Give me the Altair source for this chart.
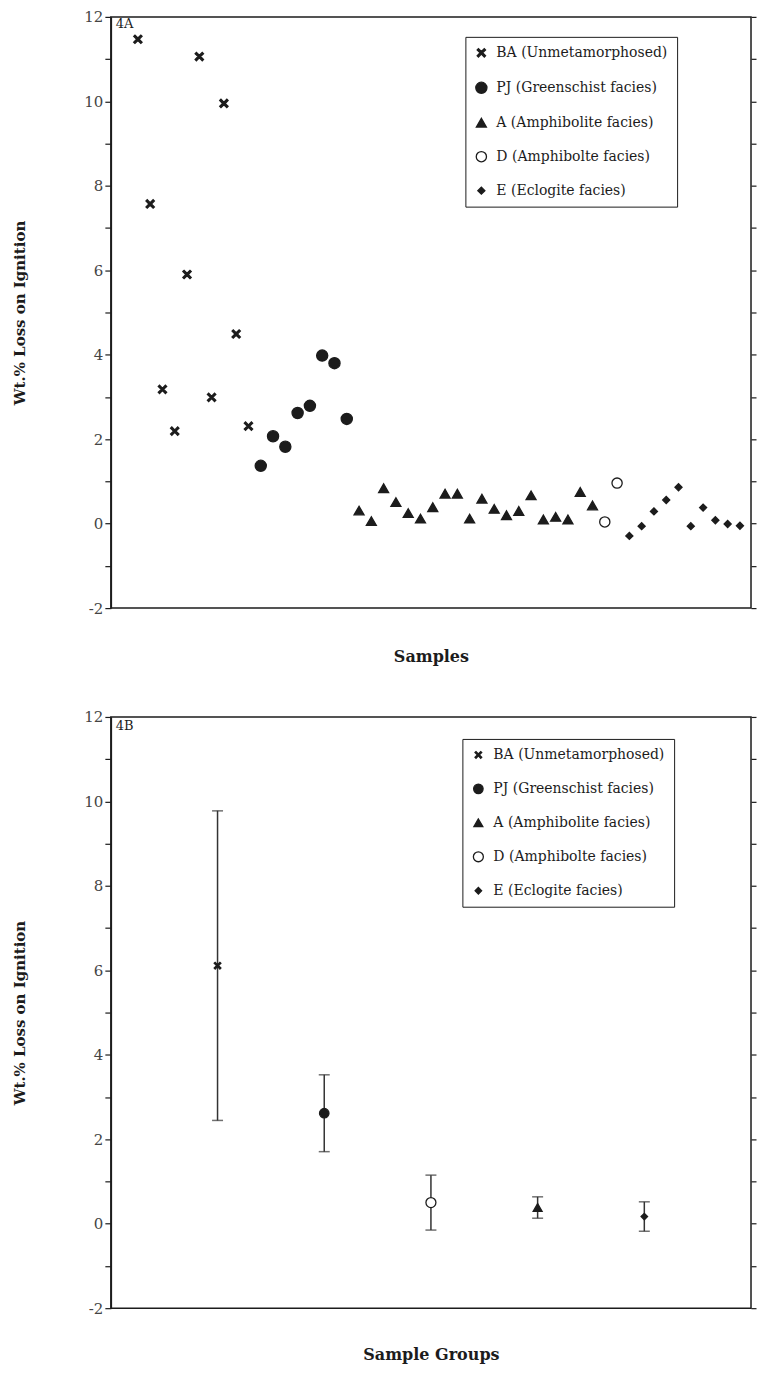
import altair as alt
import pandas as pd

# ---- data (Wt.% loss on ignition) ----
ba = [11.47, 7.57, 3.18, 2.19, 5.90, 11.06, 2.99, 9.95, 4.49, 2.31]
pj = [1.37, 2.07, 1.82, 2.62, 2.79, 3.98, 3.80, 2.48]
am = [0.31, 0.06, 0.84, 0.51, 0.25, 0.12, 0.39, 0.71, 0.71, 0.12,
      0.59, 0.35, 0.20, 0.30, 0.67, 0.10, 0.16, 0.10, 0.75, 0.43]
dm = [0.04, 0.96]
ec = [-0.29, -0.06, 0.29, 0.56, 0.86, -0.06, 0.38, 0.08, -0.01, -0.05]

labels = ["BA (Unmetamorphosed)", "PJ (Greenschist facies)",
          "A (Amphibolite facies)", "D (Amphibolte facies)", "E (Eclogite facies)"]
group_order_b = [labels[0], labels[1], labels[3], labels[2], labels[4]]

values = ba + pj + am + dm + ec
groups = ([labels[0]] * len(ba) + [labels[1]] * len(pj) + [labels[2]] * len(am)
          + [labels[3]] * len(dm) + [labels[4]] * len(ec))
df = pd.DataFrame({"sample": list(range(1, len(values) + 1)), "loi": values, "group": groups})

# ---- styles ----
SERIF = "DejaVu Serif"
INK = "#1c1c1c"
x_path = "M-1,-0.7L-0.7,-1L0,-0.3L0.7,-1L1,-0.7L0.3,0L1,0.7L0.7,1L0,0.3L-0.7,1L-1,0.7L-0.3,0Z"
shapes = [x_path, "circle", "triangle-up", "circle", "diamond"]
fills = [INK, INK, INK, "white", INK]
sizes_top = [70, 125, 100, 105, 50]
sizes_bot = [45, 90, 80, 100, 42]

W, H = 641, 592
yscale = alt.Scale(domain=[-2, 12], nice=False, zero=False)
yticks = list(range(-2, 13))


def left_axis():
    return alt.Axis(title="Wt.% Loss on Ignition", values=yticks,
                    labelExpr="datum.value % 2 === 0 ? '' + datum.value : ''",
                    grid=False, tickSize=6, labelPadding=2, tickColor=INK,
                    domainColor=INK, domainWidth=1.5, tickWidth=1.2,
                    labelFont=SERIF, labelFontSize=15, labelColor="#444",
                    titleFont=SERIF, titleFontSize=15, titleFontWeight="bold",
                    titleColor=INK, titlePadding=56)


def right_axis():
    return alt.Axis(orient="right", title=None, labels=False, values=yticks,
                    grid=False, tickSize=5, domain=False, tickColor=INK, tickWidth=1.2)


def legend(x, y):
    return alt.Legend(title=None, orient="none", legendX=x, legendY=y,
                      strokeColor=INK, padding=9, rowPadding=19, labelLimit=0,
                      labelFont=SERIF, labelFontSize=14, labelColor=INK,
                      symbolStrokeWidth=1.3, labelOffset=8)


def enc_style(sizes, lx, ly):
    return dict(
        shape=alt.Shape("group:N", scale=alt.Scale(domain=labels, range=shapes), legend=legend(lx, ly)),
        fill=alt.Fill("group:N", scale=alt.Scale(domain=labels, range=fills), legend=legend(lx, ly)),
        stroke=alt.Stroke("group:N", scale=alt.Scale(domain=labels, range=[INK] * 5), legend=legend(lx, ly)),
        size=alt.Size("group:N", scale=alt.Scale(type="ordinal", domain=labels, range=sizes),
                      legend=legend(lx, ly)),
    )


# ---- panel 4A ----
xscale_a = alt.Scale(domain=[-1.2, 50.9], nice=False, zero=False)


def x_axis(title, pad):
    return alt.Axis(title=title, labels=False, ticks=False, domain=False, grid=False,
                    titleFont=SERIF, titleFontSize=16, titleFontWeight="bold",
                    titleColor=INK, titlePadding=pad)


pts_a = alt.Chart(df).mark_point(filled=True, strokeWidth=1.3, opacity=1).encode(
    x=alt.X("sample:Q", scale=xscale_a, axis=x_axis("Samples", 40)),
    y=alt.Y("loi:Q", scale=yscale, axis=left_axis()),
    **enc_style(sizes_top, 355, 20),
)
right_a = alt.Chart(df).mark_point(opacity=0).encode(
    x=alt.X("sample:Q", scale=xscale_a, axis=x_axis("Samples", 40)),
    y=alt.Y("loi:Q", scale=yscale, axis=right_axis()),
)
tag_a = alt.Chart(pd.DataFrame({"t": ["4A"]})).mark_text(
    align="left", baseline="top", font=SERIF, fontSize=13, color=INK
).encode(text="t:N", x=alt.value(5), y=alt.value(1))

panel_a = alt.layer(pts_a, right_a, tag_a).resolve_axis(y="independent").properties(width=W, height=H)

# ---- panel 4B ----
xscale_b = alt.Scale(domain=group_order_b, type="point", padding=1)

err_b = alt.Chart(df).mark_errorbar(
    extent="stdev", ticks={"size": 11}, color="#333", thickness=1.5
).encode(
    x=alt.X("group:N", scale=xscale_b, axis=x_axis("Sample Groups", 38)),
    y=alt.Y("loi:Q", scale=yscale, axis=left_axis()),
)
mean_b = alt.Chart(df).mark_point(filled=True, strokeWidth=1.3, opacity=1).encode(
    x=alt.X("group:N", scale=xscale_b, axis=x_axis("Sample Groups", 38)),
    y=alt.Y("mean(loi):Q", scale=yscale, axis=left_axis()),
    **enc_style(sizes_bot, 352, 22),
)
right_b = alt.Chart(df).mark_point(opacity=0).encode(
    x=alt.X("group:N", scale=xscale_b, axis=x_axis("Sample Groups", 38)),
    y=alt.Y("loi:Q", scale=yscale, axis=right_axis()),
)
tag_b = alt.Chart(pd.DataFrame({"t": ["4B"]})).mark_text(
    align="left", baseline="top", font=SERIF, fontSize=13, color=INK
).encode(text="t:N", x=alt.value(5), y=alt.value(3))

inner_b = alt.layer(err_b, mean_b)
panel_b = alt.layer(inner_b, right_b, tag_b).resolve_axis(y="independent").properties(width=W, height=H)

chart = alt.vconcat(panel_a, panel_b, spacing=44).resolve_scale(
    shape="independent", fill="independent", size="independent", stroke="independent"
).configure(
    padding={"left": 12, "top": 8, "right": 0, "bottom": 2},
    background="white",
).configure_view(stroke=INK, strokeWidth=1.5)

chart.save("out.html", embed_options={"renderer": "svg", "actions": False})
